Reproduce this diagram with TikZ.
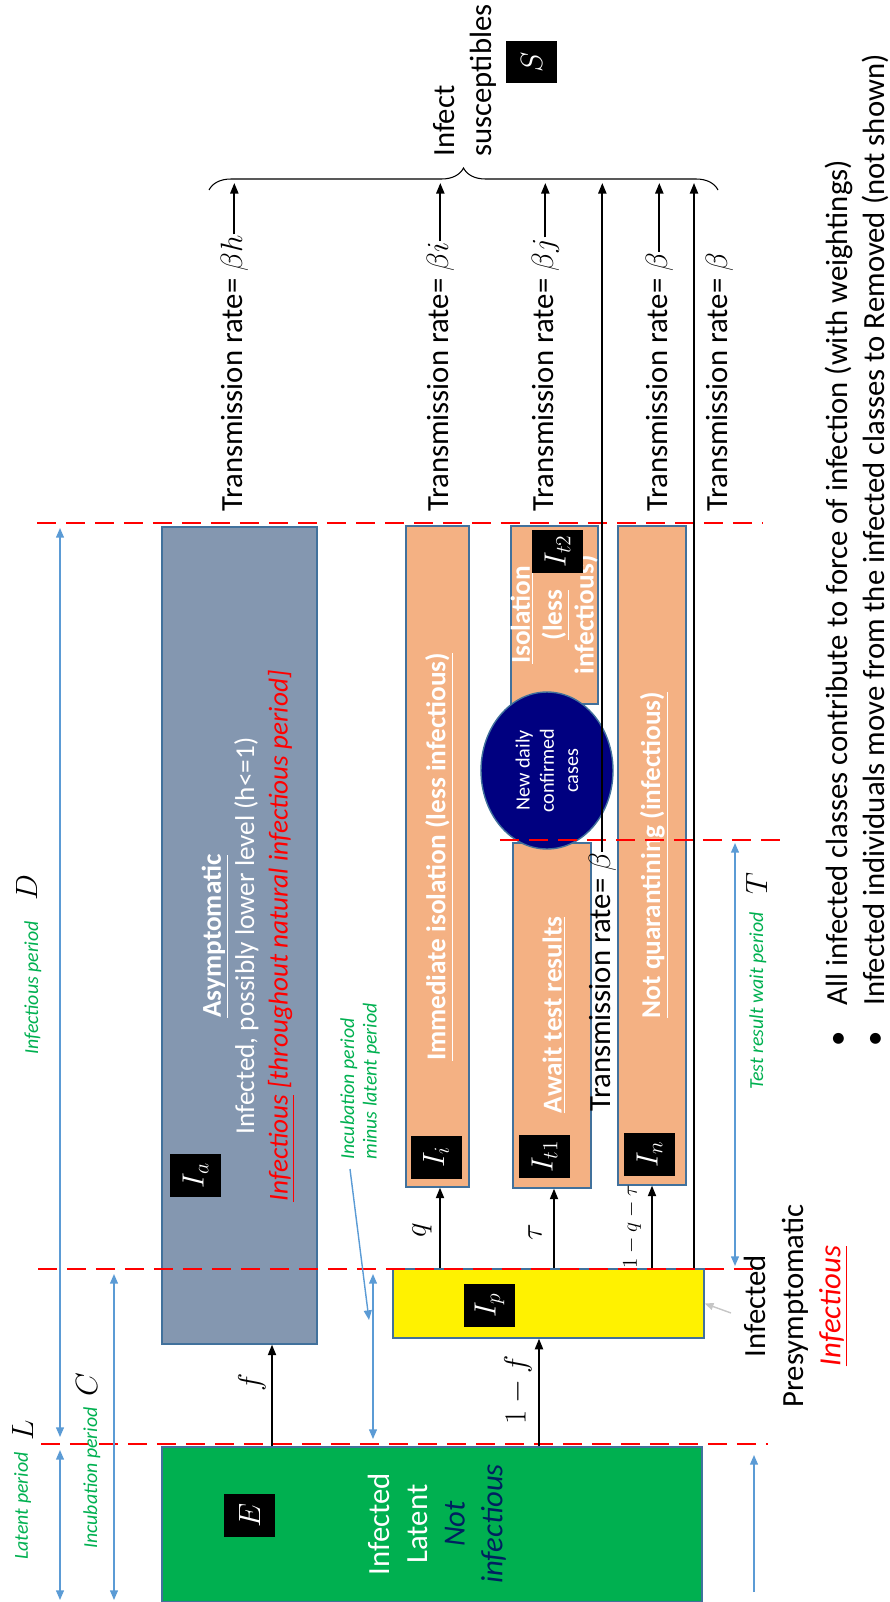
\RequirePackage{fix-cm}
\documentclass[tikz,border=0pt]{standalone}
\usepackage{fontspec}
\setmainfont{Carlito}
\usetikzlibrary{arrows.meta,decorations.pathreplacing,shapes.geometric}
\definecolor{egreen}{HTML}{00B050}
\definecolor{slate}{HTML}{8497B0}
\definecolor{peach}{HTML}{F4B183}
\definecolor{bord}{HTML}{41719C}
\definecolor{navyc}{HTML}{000080}
\definecolor{blu}{HTML}{5B9BD5}
\definecolor{dkblue}{HTML}{002060}
\newcommand{\fsz}[2]{\fontsize{#1}{#2}\selectfont}
\begin{document}
\begin{tikzpicture}[x=0.02cm,y=0.02cm,
  box/.style={draw=bord, line width=0.8pt, inner sep=0},
  lab/.style={fill=black, text=white, rotate=90, minimum width=0.86cm, minimum height=1.02cm, inner sep=0, font=\fsz{17.5}{21}},
  txt/.style={rotate=90, inner sep=0.5pt, font=\fsz{17.5}{21.4}},
  intxt/.style={rotate=90, inner sep=0.5pt, text=white, font=\fsz{15.5}{19}\bfseries},
  grn/.style={rotate=90, text=egreen, font=\fsz{11.3}{12.8}\itshape, inner sep=0},
  bar/.style={-{Triangle[length=6pt,width=4.6pt]}, line width=1pt},
  dim/.style={blu, line width=0.8pt, {Triangle[length=5.5pt,width=4.5pt]}-{Triangle[length=5.5pt,width=4.5pt]}},
  onearr/.style={blu, line width=0.8pt, -{Triangle[length=5.5pt,width=4.5pt]}},
  reddash/.style={red, line width=1.5pt, dash pattern=on 10.8pt off 5.7pt}]
\path[use as bounding box] (0,0) rectangle (889,-1602);

% compartments
\node[box, fill=egreen, minimum width=10.8cm, minimum height=3.1cm] (E) at (432,-1524.5) {};
\node[box, fill=slate, minimum width=3.1cm, minimum height=16.34cm] (Ia) at (239.5,-935.5) {};
\node[box, fill=yellow, minimum width=6.22cm, minimum height=1.38cm] (Ip) at (548.5,-1303.5) {};
\node[box, fill=peach, minimum width=1.26cm, minimum height=13.22cm] (Ii) at (437.5,-856.5) {};
\node[box, fill=peach, minimum width=1.56cm, minimum height=6.9cm] (It1) at (552,-1015.5) {};
\node[box, fill=peach, minimum width=1.74cm, minimum height=3.56cm] (It2) at (554.5,-615) {};
\node[box, fill=peach, minimum width=1.36cm, minimum height=13.18cm] (In) at (652,-855.5) {};

% box texts
\node[txt, text=white, align=center] (tE) at (437,-1524) {Infected\\Latent\\\textcolor{dkblue}{\textit{Not}}\\\textcolor{dkblue}{\textit{infectious}}};
\node[txt, text=white, align=center, font=\fsz{15.5}{19}] (tIa) at (248,-936) {\underline{\textbf{Asymptomatic}}\\Infected, possibly lower level (h<=1)\\\textcolor{red}{\textit{\underline{Infectious} [throughout natural infectious period]}}};
\node[intxt] (tIi) at (439,-857) {\underline{Immediate isolation (less infectious)}};
\node[intxt] (tIt1) at (554,-1015) {\underline{Await test results}};
\node[intxt, align=center, font=\fsz{15.5}{18.2}\bfseries] (tIt2) at (556,-615) {\underline{Isolation}\\\underline{(less}\\\underline{infectious)}};
\node[intxt] (tIn) at (654,-855) {\underline{Not quarantining (infectious)}};

% new daily confirmed cases
\node[ellipse, rotate=90, draw=bord, fill=navyc, line width=0.8pt, minimum width=3.14cm, minimum height=2.64cm, inner sep=0, text=white, align=center, font=\fsz{11.5}{13.8}] (nd) at (547,-770.5) {New daily\\confirmed\\cases};

% labels
\node[lab] (lE) at (249.5,-1515.5) {$E$};
\node[lab] (lIa) at (195.5,-1175.5) {$I_a$};
\node[lab] (lIp) at (489.5,-1305.5) {$I_p$};
\node[lab] (lIi) at (436,-1157) {$I_i$};
\node[lab] (lIt1) at (544.5,-1156.5) {$I_{t1}$};
\node[lab] (lIt2) at (557.5,-551) {$I_{t2}$};
\node[lab] (lIn) at (649.5,-1154.5) {$I_n$};
\node[lab] (lS) at (531.5,-62) {$S$};

% transmission texts
\coordinate (brc) at (0,-183);
\node[txt, anchor=base west] (t1) at (242,-513) {Transmission rate= $\beta h$};
\node[txt, anchor=base west] (t2) at (448,-513) {Transmission rate= $\beta i$};
\node[txt, anchor=base west] (t3) at (553,-513) {Transmission rate= $\beta j$};
\node[txt, anchor=base west] (t4) at (610,-1113) {Transmission rate= $\beta$};
\node[txt, anchor=base west] (t5) at (667,-513) {Transmission rate= $\beta$};
\node[txt, anchor=base west] (t6) at (727,-513) {Transmission rate= $\beta$};

% red dashed time markers
\draw[reddash] (41,-1444) -- (768,-1444);
\draw[reddash] (38,-1269) -- (758,-1269);
\draw[reddash] (37,-523) -- (762,-523);
\draw[reddash] (500,-840) -- (783,-840);

% flows
\coordinate (cf) at (272,0);
\coordinate (c1f) at (539,0);
\coordinate (cq) at (440,0);
\coordinate (ct) at (554,0);
\coordinate (cn) at (652,0);
\coordinate (cl) at (694,0);
\draw[bar] (cf |- E.north) -- (cf |- Ia.south);
\draw[bar] (c1f |- E.north) -- (c1f |- Ip.south);
\draw[bar] (cq |- Ip.north) -- (cq |- Ii.south);
\draw[bar] (ct |- Ip.north) -- (ct |- It1.south);
\draw[bar] (cn |- Ip.north) -- (cn |- In.south);
\draw[bar] (cl |- Ip.north) -- (cl |- brc);
\draw[bar] (t1.east) -- (t1.east |- brc);
\draw[bar] (t2.east) -- (t2.east |- brc);
\draw[bar] (t3.east) -- (t3.east |- brc);
\draw[bar] (t4.east) -- (t4.east |- brc);
\draw[bar] (t5.east) -- (t5.east |- brc);

\node[txt] (lf) at (252,-1382) {$f$};
\node[txt] (l1f) at (518,-1390) {$1-f$};
\node[txt] (lq) at (422,-1230) {$q$};
\node[txt] (ltau) at (535,-1232) {$\tau$};
\node[txt, font=\fsz{12}{14}] (lqt) at (632,-1227) {$1-q-\tau$};

% brace and susceptibles
\coordinate (bra) at (209,-190);
\coordinate (brb) at (718,-190);
\draw[decorate, decoration={brace, amplitude=0.44cm}, line width=0.6pt] (bra) -- (brb);
\node[txt, anchor=west, align=left, inner sep=0] (inf) at (465,-157) {Infect\\susceptibles};

% period annotations
\node[grn, anchor=base] (gL) at (28,-1506) {Latent period};
\node[grn, anchor=base] (gC) at (97,-1478) {Incubation period};
\node[grn, anchor=base] (gD) at (38,-988) {Infectious period};
\node[grn, anchor=base] (gT) at (763,-1001) {Test result wait period};
\node[grn, anchor=west, align=left] (gCL) at (360,-1160) {Incubation period\\minus latent period};
\node[txt, anchor=base] (mL) at (33,-1430) {$L$};
\node[txt, anchor=base] (mC) at (97,-1385) {$C$};
\node[txt, anchor=base] (mD) at (37,-888) {$D$};
\node[txt, anchor=base] (mT) at (767,-884) {$T$};

\draw[dim] (60,-1600) -- (60,-1450);
\draw[dim] (60,-1437) -- (60,-528);
\draw[dim] (114,-1600) -- (114,-1274);
\draw[dim] (373,-1439) -- (373,-1274);
\draw[dim] (735,-1266) -- (735,-843);
\draw[onearr] (754,-1592) -- (754,-1455);
\coordinate (pa) at (350,-1169);
\coordinate (pb) at (369,-1320);
\draw[onearr] (pa) -- (pb);

% presymptomatic note
\node[txt, align=center, font=\fsz{17.5}{21.2}] (ip) at (796,-1306) {Infected\\Presymptomatic\\\textcolor{red}{\underline{\textit{Infectious}}}};
\coordinate (ga) at (731,-1313);
\draw[-{Triangle[length=5pt,width=4pt]}, gray!45, line width=0.8pt] (ga) -- (Ip.east);

% bullets
\node[txt, anchor=base west] (b1) at (847,-1048) {\textbullet\hspace{14.8pt}All infected classes contribute to force of infection (with weightings)};
\node[txt, anchor=base west] (b2) at (884,-1048) {\textbullet\hspace{14.8pt}Infected individuals move from the infected classes to Removed (not shown)};
\end{tikzpicture}
\end{document}
